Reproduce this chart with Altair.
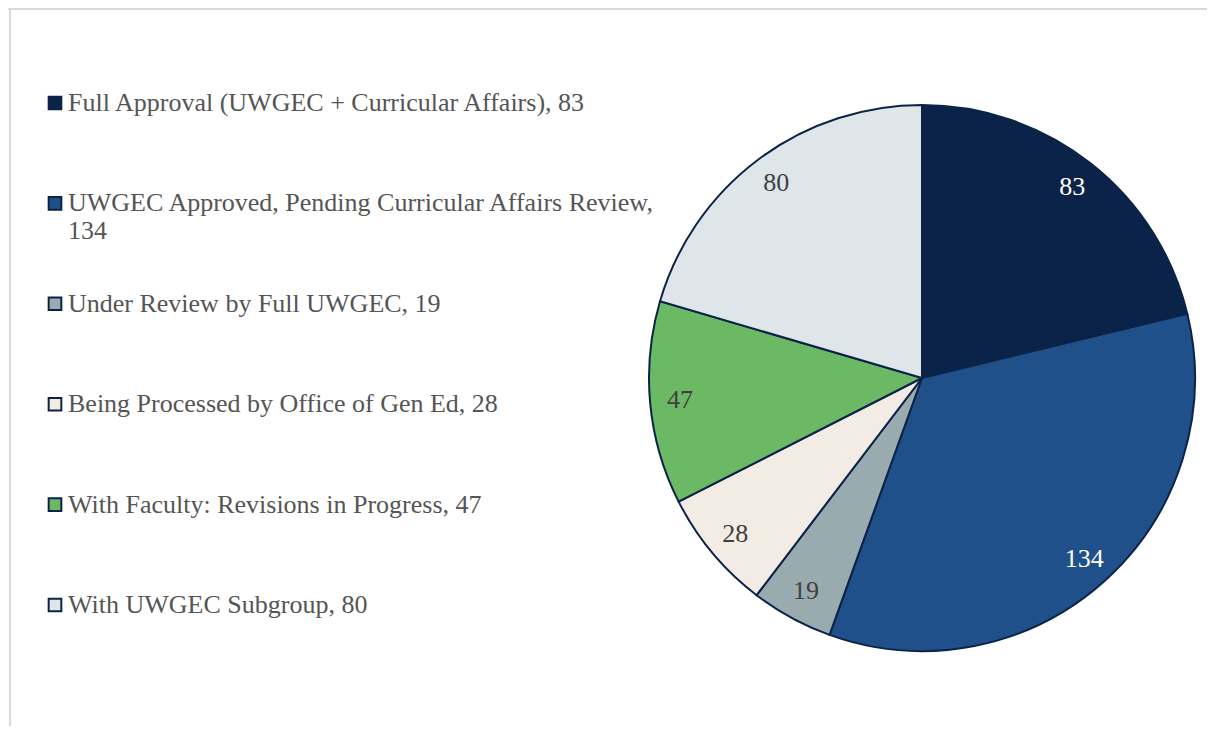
import altair as alt
import pandas as pd

categories = [
    "Full Approval (UWGEC + Curricular Affairs)",
    "UWGEC Approved, Pending Curricular Affairs Review",
    "Under Review by Full UWGEC",
    "Being Processed by Office of Gen Ed",
    "With Faculty: Revisions in Progress",
    "With UWGEC Subgroup",
]
values = [83, 134, 19, 28, 47, 80]
legend_labels = [
    "Full Approval (UWGEC + Curricular Affairs), 83",
    "UWGEC Approved, Pending Curricular Affairs Review,\n134",
    "Under Review by Full UWGEC, 19",
    "Being Processed by Office of Gen Ed, 28",
    "With Faculty: Revisions in Progress, 47",
    "With UWGEC Subgroup, 80",
]
slice_colors = ["#0C2349", "#1F5089", "#9AABB0", "#F2ECE5", "#6BB865", "#DEE6EA"]
value_label_colors = ["#FFFFFF", "#FFFFFF", "#404040", "#404040", "#404040", "#404040"]

df = pd.DataFrame({
    "idx": list(range(len(categories))),
    "category": categories,
    "value": values,
    "legend": legend_labels,
    "tcolor": value_label_colors,
})

FONT = "Liberation Serif"
EDGE = "#0C2349"
CX, CY = 914, 370

base = alt.Chart(df)

color_enc = alt.Color("category:N", scale=alt.Scale(domain=categories, range=slice_colors), legend=None)
theta_enc = alt.Theta("value:Q", stack=True)
order_enc = alt.Order("idx:Q")

pie = base.mark_arc(outerRadius=273, stroke=EDGE, strokeWidth=2).encode(
    theta=theta_enc, color=color_enc, order=order_enc,
    x=alt.value(CX), y=alt.value(CY),
)

pie_labels = base.mark_text(radius=243, fontSize=26, font=FONT).encode(
    theta=theta_enc, order=order_enc, text="value:Q",
    color=alt.Color("tcolor:N", scale=None, legend=None),
    x=alt.value(CX), y=alt.value(CY),
)

y_enc = alt.Y("category:N", scale=alt.Scale(type="point", domain=categories, range=[95, 597], padding=0), axis=None)

leg_sq = base.mark_square(size=160, stroke=EDGE, strokeWidth=2, opacity=1).encode(
    x=alt.value(47), y=y_enc, color=color_enc,
)

leg_txt = base.mark_text(align="left", baseline="middle", fontSize=26, font=FONT,
                         color="#555555", lineBreak="\n", lineHeight=28).encode(
    x=alt.value(60), y=y_enc, text="legend:N",
)

frame_top = base.mark_rule(color="#D9D9D9", strokeWidth=2).encode(
    x=alt.value(0), x2=alt.value(1199), y=alt.value(1)
)
frame_left = base.mark_rule(color="#D9D9D9", strokeWidth=2).encode(
    x=alt.value(2), y=alt.value(0), y2=alt.value(718)
)

chart = alt.layer(frame_top, frame_left, pie, pie_labels, leg_sq, leg_txt).resolve_scale(
    color="independent"
).properties(
    width=1199, height=718, padding=0, autosize=alt.AutoSizeParams(type="none"),
    background="white",
).configure_view(stroke=None)

chart.save("out.html", embed_options={"renderer": "svg", "actions": False})
